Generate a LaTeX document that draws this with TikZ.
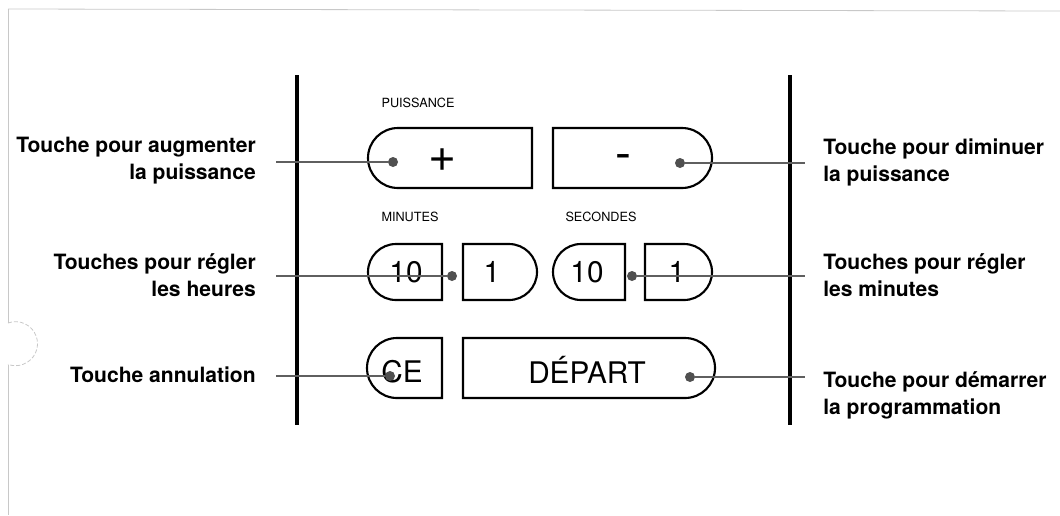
\documentclass[tikz,border=0pt]{standalone}
\usepackage{fontspec}
\setmainfont{TeX Gyre Heros}
\begin{document}
\begin{tikzpicture}[x=0.75pt,y=0.75pt,yscale=-1,xscale=1,
  key/.style={line width=1.6},
  bar/.style={line width=2.6},
  lead/.style={draw={rgb, 255:red, 95; green, 95; blue, 95 }, line width=1.5},
  pin/.style={circle, fill={rgb, 255:red, 80; green, 80; blue, 80 }, inner sep=0, minimum size=7.5pt},
  lbl/.style={font=\bfseries\fontsize{15.8}{20.3}\selectfont, inner sep=0},
  heading/.style={font=\fontsize{9.5}{11}\selectfont, inner sep=0},
  face/.style={font=\fontsize{22.3}{24}\selectfont, inner sep=0},
  sign/.style={font=\fontsize{36}{38}\selectfont, inner sep=0},
  edge/.style={draw={rgb, 255:red, 200; green, 200; blue, 200 }, line width=0.6}]
\useasboundingbox (0,0) rectangle (1060,515);

%Page edge
\draw [edge] (8,9) -- (1060,11) ;
\draw [edge] (8,9) -- (8,323) ;
\draw [edge] (8,365) -- (8,515) ;
\draw [edge, dash pattern={on 3pt off 1.5pt}] (8,323) arc (250:470:22) ;

%Straight Lines: panel sides
\draw [bar] (297,75) -- (297,425) ;
\draw [bar] (790,75) -- (790,425) ;

%Shape: Plus key
\draw [key] (532,128) -- (398,128) arc (270:90:30) -- (532,188) -- cycle ;
%Shape: Minus key
\draw [key] (553,128) -- (682,128) arc (-90:90:30) -- (553,188) -- cycle ;
%Shape: 10 minutes key
\draw [key] (442,244) -- (396,244) arc (270:90:28) -- (442,300) -- cycle ;
%Shape: 1 minute key
\draw [key] (463,244) -- (509,244) arc (-90:90:28) -- (463,300) -- cycle ;
%Shape: 10 seconds key
\draw [key] (625,244) -- (581,244) arc (270:90:28) -- (625,300) -- cycle ;
%Shape: 1 second key
\draw [key] (645,244) -- (684,244) arc (-90:90:28) -- (645,300) -- cycle ;
%Shape: CE key
\draw [key] (442,338) -- (397,338) arc (270:90:30) -- (442,398) -- cycle ;
%Shape: Start key
\draw [key] (463,338) -- (685,338) arc (-90:90:30) -- (463,398) -- cycle ;

% Text Node
\node [heading] (puissance) at (418,103) {PUISSANCE};
% Text Node
\node [heading] (minutes) at (410,217) {MINUTES};
% Text Node
\node [heading] (secondes) at (601,217) {SECONDES};
% Text Node
\node [sign] (plus) at (443,160) {+};
% Text Node
\node [sign] (minus) at (623,162) {-};
% Text Node
\node [face] (dixmin) at (406,272) {10};
% Text Node
\node [face] (unmin) at (492,272) {1};
% Text Node
\node [face] (dixsec) at (587,272) {10};
% Text Node
\node [face] (unsec) at (677,272) {1};
% Text Node
\node [face] (ce) at (402,372) {CE};
% Text Node
\node [face] (depart) at (587,370) {DÉPART};

% Text Node
\node [lbl, anchor=east, align=right] (tPlus) at (256,161) {Touche pour augmenter\\la puissance};
% Text Node
\node [lbl, anchor=east, align=right] (tHeures) at (256,275) {Touches pour régler\\les heures};
% Text Node
\node [lbl, anchor=east, align=right] (tCe) at (256,375) {Touche annulation};
% Text Node
\node [lbl, anchor=west, align=left] (tMinus) at (823,162) {Touche pour diminuer\\la puissance};
% Text Node
\node [lbl, anchor=west, align=left] (tMinutes) at (823,275) {Touches pour régler\\les minutes};
% Text Node
\node [lbl, anchor=west, align=left] (tDepart) at (823,395) {Touche pour démarrer\\la programmation};

%Leader lines
\coordinate (ePlus) at (276,162) ;
\coordinate (eHeures) at (276,276) ;
\coordinate (eCe) at (276,376) ;
\coordinate (eMinus) at (805,163) ;
\coordinate (eMinutes) at (805,276) ;
\coordinate (eDepart) at (805,377) ;
\node [pin] (dPlus) at (393,162) {};
\node [pin] (dMinus) at (680,163) {};
\node [pin] (dHeures) at (452,276) {};
\node [pin] (dMinutes) at (632,276) {};
\node [pin] (dCe) at (390,376) {};
\node [pin] (dDepart) at (690,377) {};
\draw [lead] (ePlus) -- (dPlus) ;
\draw [lead] (dMinus) -- (eMinus) ;
\draw [lead] (eHeures) -- (dHeures) ;
\draw [lead] (dMinutes) -- (eMinutes) ;
\draw [lead] (eCe) -- (dCe) ;
\draw [lead] (dDepart) -- (eDepart) ;

\end{tikzpicture}
\end{document}
